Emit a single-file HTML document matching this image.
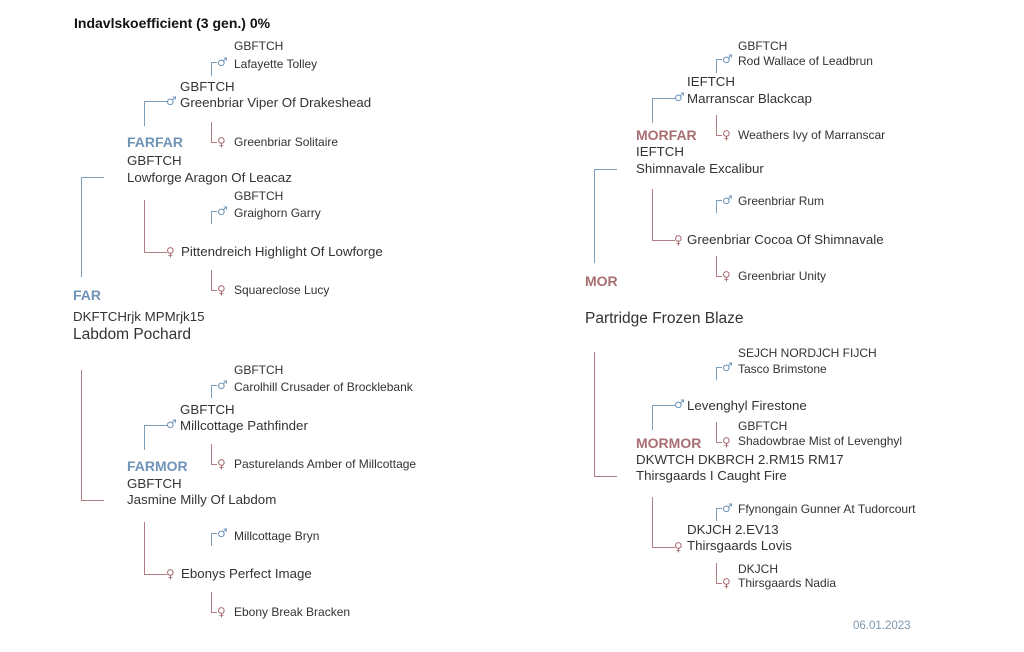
<!DOCTYPE html>
<html><head><meta charset="utf-8"><style>
body{margin:0;background:#fff;width:1024px;height:652px;position:relative;overflow:hidden;font-family:"Liberation Sans",Arial,sans-serif;color:#333}
.t{position:absolute;white-space:nowrap;line-height:14px;font-size:11px}
.s{font-size:12px}
.m{font-size:13.3px}
.l{font-size:15.5px}
.h{font-size:14px;font-weight:bold}
.hb{color:#6f94b8}.hr{color:#a86e72}
.b{position:absolute;border-color:#7c9dba;border-style:solid;border-width:0}
.r{position:absolute;border-color:#b07e82;border-style:solid;border-width:0}
.up{border-top-width:1.5px;border-left-width:1.5px}
.dn{border-bottom-width:1.5px;border-left-width:1.5px}
.i{position:absolute;font-family:"DejaVu Sans",sans-serif;font-size:12px;line-height:12px}
.im{color:#6f94b8}.if{color:#a86e72}
</style></head><body>
<div class="t" style="left:74px;top:16px;font-size:14px;font-weight:bold;color:#111">Indavlskoefficient (3 gen.) 0%</div>

<!-- LEFT TOP -->
<div class="t s" style="left:234px;top:39px">GBFTCH</div>
<div class="b up" style="left:211px;top:62px;width:5px;height:13px"></div>
<div class="i im" style="left:217px;top:56px">♂</div>
<div class="t s" style="left:234px;top:57px">Lafayette Tolley</div>
<div class="t m" style="left:180px;top:80px">GBFTCH</div>
<div class="b up" style="left:144px;top:101px;width:22px;height:24px"></div>
<div class="i im" style="left:166px;top:95px">♂</div>
<div class="t m" style="left:180px;top:96px">Greenbriar Viper Of Drakeshead</div>
<div class="r dn" style="left:211px;top:122px;width:5px;height:20px"></div>
<div class="i if" style="left:217px;top:136px">♀</div>
<div class="t s" style="left:234px;top:135px">Greenbriar Solitaire</div>
<div class="t h hb" style="left:127px;top:135px">FARFAR</div>
<div class="t m" style="left:127px;top:154px">GBFTCH</div>
<div class="t m" style="left:127px;top:171px">Lowforge Aragon Of Leacaz</div>
<div class="b up" style="left:81px;top:177px;width:22px;height:99px"></div>
<div class="t s" style="left:234px;top:189px">GBFTCH</div>
<div class="b up" style="left:211px;top:211px;width:5px;height:12px"></div>
<div class="i im" style="left:217px;top:205px">♂</div>
<div class="t s" style="left:234px;top:206px">Graighorn Garry</div>
<div class="r dn" style="left:144px;top:200px;width:22px;height:52px"></div>
<div class="i if" style="left:166px;top:246px">♀</div>
<div class="t m" style="left:181px;top:245px">Pittendreich Highlight Of Lowforge</div>
<div class="r dn" style="left:211px;top:270px;width:5px;height:20px"></div>
<div class="i if" style="left:217px;top:284px">♀</div>
<div class="t s" style="left:234px;top:283px">Squareclose Lucy</div>
<div class="t h hb" style="left:73px;top:288px">FAR</div>
<div class="t m" style="left:73px;top:310px">DKFTCHrjk MPMrjk15</div>
<div class="t l" style="left:73px;top:328px">Labdom Pochard</div>

<!-- LEFT BOTTOM -->
<div class="r dn" style="left:81px;top:370px;width:22px;height:130px"></div>
<div class="t s" style="left:234px;top:363px">GBFTCH</div>
<div class="b up" style="left:211px;top:385px;width:5px;height:12px"></div>
<div class="i im" style="left:217px;top:379px">♂</div>
<div class="t s" style="left:234px;top:380px">Carolhill Crusader of Brocklebank</div>
<div class="t m" style="left:180px;top:403px">GBFTCH</div>
<div class="b up" style="left:144px;top:425px;width:22px;height:24px"></div>
<div class="i im" style="left:166px;top:418px">♂</div>
<div class="t m" style="left:180px;top:419px">Millcottage Pathfinder</div>
<div class="r dn" style="left:211px;top:444px;width:5px;height:20px"></div>
<div class="i if" style="left:217px;top:458px">♀</div>
<div class="t s" style="left:234px;top:457px">Pasturelands Amber of Millcottage</div>
<div class="t h hb" style="left:127px;top:459px">FARMOR</div>
<div class="t m" style="left:127px;top:477px">GBFTCH</div>
<div class="t m" style="left:127px;top:493px">Jasmine Milly Of Labdom</div>
<div class="b up" style="left:211px;top:533px;width:5px;height:12px"></div>
<div class="i im" style="left:217px;top:527px">♂</div>
<div class="t s" style="left:234px;top:529px">Millcottage Bryn</div>
<div class="r dn" style="left:144px;top:522px;width:22px;height:52px"></div>
<div class="i if" style="left:166px;top:568px">♀</div>
<div class="t m" style="left:181px;top:567px">Ebonys Perfect Image</div>
<div class="r dn" style="left:211px;top:592px;width:5px;height:20px"></div>
<div class="i if" style="left:217px;top:606px">♀</div>
<div class="t s" style="left:234px;top:605px">Ebony Break Bracken</div>

<!-- RIGHT TOP -->
<div class="t s" style="left:738px;top:39px">GBFTCH</div>
<div class="b up" style="left:716px;top:59px;width:5px;height:13px"></div>
<div class="i im" style="left:722px;top:53px">♂</div>
<div class="t s" style="left:738px;top:54px">Rod Wallace of Leadbrun</div>
<div class="t m" style="left:687px;top:75px">IEFTCH</div>
<div class="b up" style="left:652px;top:98px;width:22px;height:24px"></div>
<div class="i im" style="left:674px;top:91px">♂</div>
<div class="t m" style="left:687px;top:92px">Marranscar Blackcap</div>
<div class="r dn" style="left:716px;top:115px;width:5px;height:20px"></div>
<div class="i if" style="left:722px;top:129px">♀</div>
<div class="t s" style="left:738px;top:128px">Weathers Ivy of Marranscar</div>
<div class="t h hr" style="left:636px;top:128px">MORFAR</div>
<div class="t m" style="left:636px;top:145px">IEFTCH</div>
<div class="t m" style="left:636px;top:162px">Shimnavale Excalibur</div>
<div class="b up" style="left:594px;top:169px;width:22px;height:93px"></div>
<div class="b up" style="left:716px;top:200px;width:5px;height:12px"></div>
<div class="i im" style="left:722px;top:194px">♂</div>
<div class="t s" style="left:738px;top:194px">Greenbriar Rum</div>
<div class="r dn" style="left:652px;top:189px;width:22px;height:51px"></div>
<div class="i if" style="left:674px;top:234px">♀</div>
<div class="t m" style="left:687px;top:233px">Greenbriar Cocoa Of Shimnavale</div>
<div class="r dn" style="left:716px;top:256px;width:5px;height:20px"></div>
<div class="i if" style="left:722px;top:270px">♀</div>
<div class="t s" style="left:738px;top:269px">Greenbriar Unity</div>
<div class="t h hr" style="left:585px;top:274px">MOR</div>
<div class="t l" style="left:585px;top:312px">Partridge Frozen Blaze</div>

<!-- RIGHT BOTTOM -->
<div class="r dn" style="left:594px;top:352px;width:22px;height:124px"></div>
<div class="t s" style="left:738px;top:346px">SEJCH NORDJCH FIJCH</div>
<div class="b up" style="left:716px;top:367px;width:5px;height:12px"></div>
<div class="i im" style="left:722px;top:361px">♂</div>
<div class="t s" style="left:738px;top:362px">Tasco Brimstone</div>
<div class="b up" style="left:652px;top:405px;width:22px;height:24px"></div>
<div class="i im" style="left:674px;top:398px">♂</div>
<div class="t m" style="left:687px;top:399px">Levenghyl Firestone</div>
<div class="t s" style="left:738px;top:419px">GBFTCH</div>
<div class="r dn" style="left:716px;top:422px;width:5px;height:20px"></div>
<div class="i if" style="left:722px;top:436px">♀</div>
<div class="t s" style="left:738px;top:434px">Shadowbrae Mist of Levenghyl</div>
<div class="t h hr" style="left:636px;top:436px">MORMOR</div>
<div class="t m" style="left:636px;top:453px">DKWTCH DKBRCH 2.RM15 RM17</div>
<div class="t m" style="left:636px;top:469px">Thirsgaards I Caught Fire</div>
<div class="b up" style="left:716px;top:508px;width:5px;height:12px"></div>
<div class="i im" style="left:722px;top:502px">♂</div>
<div class="t s" style="left:738px;top:502px">Ffynongain Gunner At Tudorcourt</div>
<div class="t m" style="left:687px;top:523px">DKJCH 2.EV13</div>
<div class="r dn" style="left:652px;top:497px;width:22px;height:50px"></div>
<div class="i if" style="left:674px;top:541px">♀</div>
<div class="t m" style="left:687px;top:539px">Thirsgaards Lovis</div>
<div class="t s" style="left:738px;top:562px">DKJCH</div>
<div class="r dn" style="left:716px;top:563px;width:5px;height:20px"></div>
<div class="i if" style="left:722px;top:577px">♀</div>
<div class="t s" style="left:738px;top:576px">Thirsgaards Nadia</div>

<div class="t" style="left:853px;top:619px;font-size:11.5px;color:#7d97ae">06.01.2023</div>
</body></html>
